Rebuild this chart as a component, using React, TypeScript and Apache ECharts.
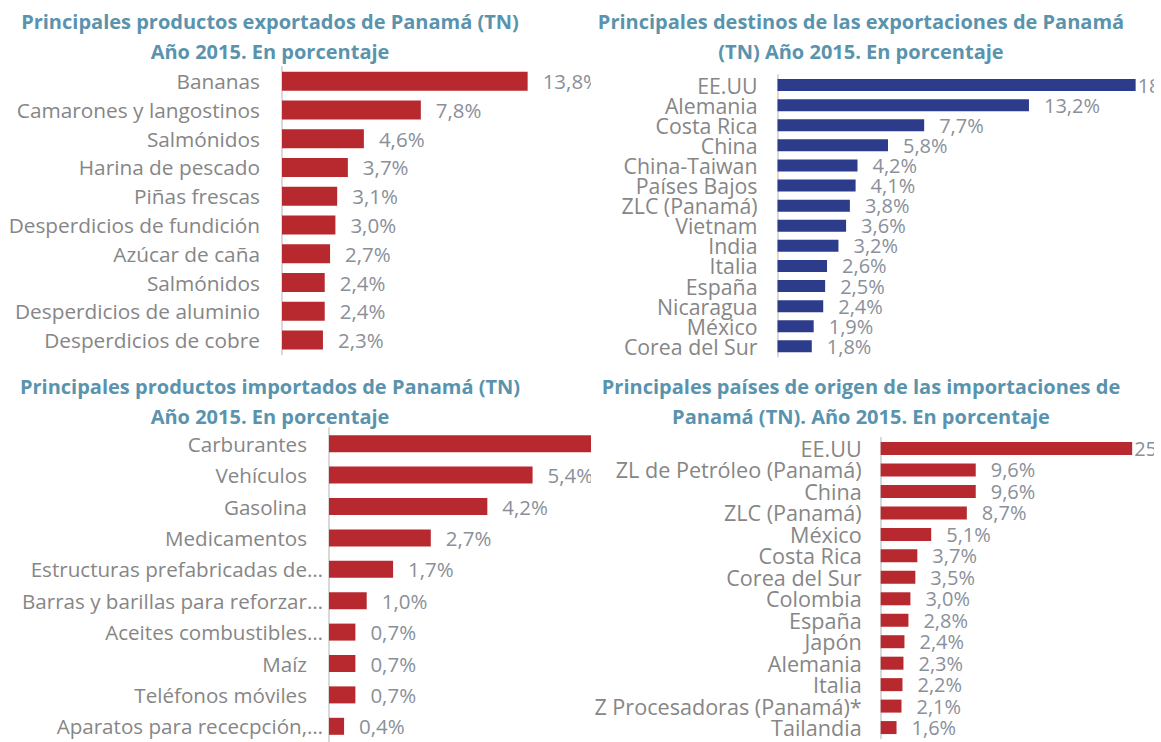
import React, { useEffect, useRef } from "react";
import * as echarts from "echarts";

// ---------- Data ----------
const exportProducts = [
  "Bananas",
  "Camarones y langostinos",
  "Salmónidos",
  "Harina de pescado",
  "Piñas frescas",
  "Desperdicios de fundición",
  "Azúcar de caña",
  "Salmónidos",
  "Desperdicios de aluminio",
  "Desperdicios de cobre",
];
const exportProductValues = [13.8, 7.8, 4.6, 3.7, 3.1, 3.0, 2.7, 2.4, 2.4, 2.3];

const exportDestinations = [
  "EE.UU",
  "Alemania",
  "Costa Rica",
  "China",
  "China-Taiwan",
  "Países Bajos",
  "ZLC (Panamá)",
  "Vietnam",
  "India",
  "Italia",
  "España",
  "Nicaragua",
  "México",
  "Corea del Sur",
];
const exportDestinationValues = [18.8, 13.2, 7.7, 5.8, 4.2, 4.1, 3.8, 3.6, 3.2, 2.6, 2.5, 2.4, 1.9, 1.8];

const importProducts = [
  "Carburantes",
  "Vehículos",
  "Gasolina",
  "Medicamentos",
  "Estructuras prefabricadas de…",
  "Barras y barillas para reforzar…",
  "Aceites combustibles…",
  "Maíz",
  "Teléfonos móviles",
  "Aparatos para rececpción,…",
];
const importProductValues = [7.0, 5.4, 4.2, 2.7, 1.7, 1.0, 0.7, 0.7, 0.7, 0.4];

const importOrigins = [
  "EE.UU",
  "ZL de Petróleo (Panamá)",
  "China",
  "ZLC (Panamá)",
  "México",
  "Costa Rica",
  "Corea del Sur",
  "Colombia",
  "España",
  "Japón",
  "Alemania",
  "Italia",
  "Z Procesadoras (Panamá)*",
  "Tailandia",
];
const importOriginValues = [25.4, 9.6, 9.6, 8.7, 5.1, 3.7, 3.5, 3.0, 2.8, 2.4, 2.3, 2.2, 2.1, 1.6];

const titleTL = ["Principales productos exportados de Panamá (TN)", "Año 2015. En porcentaje"];
const titleTR = ["Principales destinos de las exportaciones de Panamá", "(TN) Año 2015. En porcentaje"];
const titleBL = ["Principales productos importados de Panamá (TN)", "Año 2015. En porcentaje"];
const titleBR = ["Principales países de origen de las importaciones de", "Panamá (TN). Año 2015. En porcentaje"];

// ---------- Styles ----------
const RED = "#b7292f";
const NAVY = "#2d3b8b";
const TITLE_COLOR = "#5a93ad";
const CAT_COLOR = "#868686";
const VAL_COLOR = "#8a9099";
const FONT = "Open Sans";

type Spec = {
  clip: [number, number, number, number];
  cats: string[];
  vals: number[];
  color: string;
  axisX: number;
  top: number;
  height: number;
  barWidth: number;
  max: number;
  width: number;
  titleX: number;
  titleY: [number, number];
  title: string[];
  margin: number;
  ellipsisShift?: number;
  fontSize: number;
  lineHeight: number;
  valueSize: number;
  firstDistance?: number;
};

const fmt = (v: number) => v.toFixed(1).replace(".", ",") + "%";

function buildOption(s: Spec) {
  const shift = s.ellipsisShift || 0;
  const base = {
    color: CAT_COLOR,
    fontSize: s.fontSize,
    fontFamily: FONT,
    lineHeight: s.lineHeight,
  };
  return {
    animation: false,
    grid: { left: s.axisX, top: s.top, width: s.width, height: s.height, containLabel: false },
    xAxis: { type: "value", min: 0, max: s.max, show: false },
    yAxis: {
      type: "category",
      data: s.cats,
      inverse: true,
      axisLine: { show: true, lineStyle: { color: "#d9d9d9", width: 2 } },
      axisTick: { show: false },
      axisLabel: {
        interval: 0,
        ...base,
        margin: s.margin - shift,
        formatter: (v: string) =>
          shift && !v.endsWith("…") ? "{n|" + v + "}" : "{e|" + v + "}",
        rich: {
          n: { ...base, padding: [0, shift, 0, 0] },
          e: { ...base },
        },
      },
      splitLine: { show: false },
    },
    series: [
      {
        type: "bar",
        barWidth: s.barWidth,
        itemStyle: { color: s.color },
        label: {
          show: true,
          position: "right",
          distance: 15,
          color: VAL_COLOR,
          fontSize: s.valueSize,
          fontFamily: FONT,
          lineHeight: s.lineHeight,
          formatter: (p: any) => fmt(p.value),
        },
        labelLayout: { hideOverlap: false },
        data: s.vals.map((v, i) =>
          i === 0 && s.firstDistance !== undefined
            ? { value: v, label: { distance: s.firstDistance } }
            : v
        ),
      },
    ],
    graphic: s.title.map((t, i) => ({
      type: "text",
      x: s.titleX,
      y: s.titleY[i],
      style: {
        text: t,
        fill: TITLE_COLOR,
        fontSize: 20,
        fontWeight: "bold",
        fontFamily: FONT,
        textAlign: "center",
        textVerticalAlign: "middle",
      },
    })),
  };
}

const specs: Spec[] = [
  {
    clip: [0, 0, 591, 370],
    cats: exportProducts,
    vals: exportProductValues,
    color: RED,
    axisX: 282,
    top: 66.8,
    height: 287.6,
    barWidth: 19,
    max: 20,
    width: 356,
    titleX: 270,
    titleY: [21, 51],
    title: titleTL,
    margin: 22,
    fontSize: 20.8,
    lineHeight: 26,
    valueSize: 20.5,
  },
  {
    clip: [591, 0, 563, 370],
    cats: exportDestinations,
    vals: exportDestinationValues,
    color: NAVY,
    axisX: 186.5,
    top: 75,
    height: 281.4,
    barWidth: 12,
    max: 20,
    width: 381,
    titleX: 270,
    titleY: [21, 51],
    title: titleTR,
    margin: 20,
    fontSize: 21.3,
    lineHeight: 19,
    valueSize: 20,
    firstDistance: 2,
  },
  {
    clip: [0, 370, 591, 372],
    cats: importProducts,
    vals: importProductValues,
    color: RED,
    axisX: 329,
    top: 58,
    height: 319.4,
    barWidth: 17,
    max: 10,
    width: 377,
    titleX: 270,
    titleY: [16, 46],
    title: titleBL,
    margin: 22,
    ellipsisShift: 16,
    fontSize: 20.6,
    lineHeight: 28,
    valueSize: 20.5,
  },
  {
    clip: [591, 370, 563, 372],
    cats: importOrigins,
    vals: importOriginValues,
    color: RED,
    axisX: 289.7,
    top: 67.8,
    height: 300.5,
    barWidth: 13,
    max: 30,
    width: 297,
    titleX: 270,
    titleY: [16, 46],
    title: titleBR,
    margin: 19,
    fontSize: 21.6,
    lineHeight: 20,
    valueSize: 20,
    firstDistance: 2,
  },
];

function Panel({ spec }: { spec: Spec }) {
  const ref = useRef<HTMLDivElement>(null);
  useEffect(() => {
    if (!ref.current) return;
    const chart = echarts.init(ref.current, null, { renderer: "svg" });
    chart.setOption(buildOption(spec) as any);
    return () => chart.dispose();
  }, [spec]);
  const [x, y, w, h] = spec.clip;
  return (
    <div style={{ position: "absolute", left: x, top: y, width: w, height: h, overflow: "hidden" }}>
      <div ref={ref} style={{ position: "absolute", left: 0, top: 0, width: 900, height: h }} />
    </div>
  );
}

export default function App() {
  return (
    <div
      style={{
        position: "fixed",
        left: 0,
        top: 0,
        width: 1161,
        height: 742,
        background: "#ffffff",
        overflow: "hidden",
      }}
    >
      {specs.map((s, i) => (
        <Panel key={i} spec={s} />
      ))}
    </div>
  );
}
